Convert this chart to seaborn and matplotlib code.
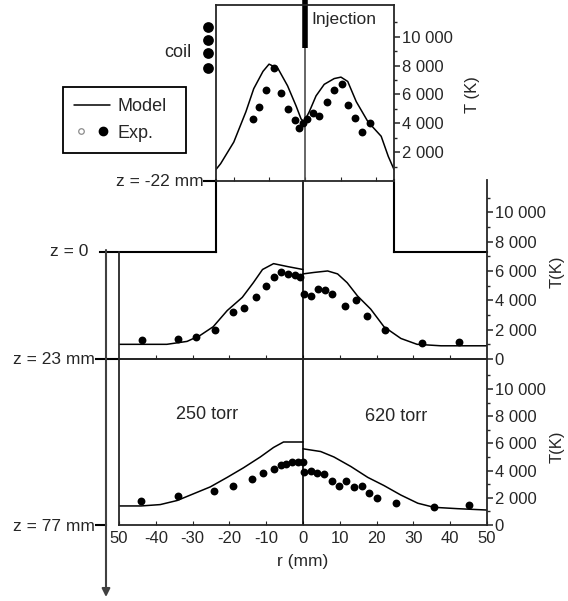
import matplotlib
matplotlib.use("Agg")
import matplotlib.pyplot as plt
import seaborn as sns
from matplotlib.lines import Line2D
from matplotlib.legend_handler import HandlerTuple

# ---- data (r in mm, T in K) ----
# top panel, z = -22 mm (inside the coil region)
top_model_r = [-25, -23.7, -20, -16.6, -14.4, -11.8, -10.1, -7.6, -4.9, -2.5, -1.1, -0.3,
               1.2, 3.1, 5.4, 8.2, 10.1, 12, 14.4, 17.7, 21.4, 23.4, 25]
top_model_T = [800, 1200, 2700, 4800, 6400, 7600, 8100, 7800, 6600, 5200, 4300, 4100,
               4800, 5900, 6700, 7100, 7200, 6900, 5500, 4100, 3100, 1700, 800]
top_exp_r = [-14.6, -12.9, -11, -8.8, -6.8, -4.8, -2.8, -1.8, -0.6, 0.6, 2.2, 4,
             6.2, 8.2, 10.4, 12, 14, 16, 18.3]
top_exp_T = [4300, 5100, 6300, 7800, 6100, 5000, 4200, 3700, 4000, 4300, 4700, 4500,
             5500, 6300, 6700, 5300, 4400, 3400, 4000]

# middle panel, z = 23 mm
mid_model_left_r = [-50, -37, -31.5, -28, -24.4, -20.6, -16.5, -13.5, -11, -8, -4.2, 0]
mid_model_left_T = [1000, 1000, 1200, 1600, 2200, 3300, 4200, 5200, 6100, 6500, 6300, 6100]
mid_model_right_r = [0, 3, 6.7, 9.4, 12, 14.8, 18.4, 22, 26.6, 31, 37.5, 50]
mid_model_right_T = [5800, 5900, 6000, 5800, 5200, 4300, 3400, 2200, 1400, 1000, 900, 900]
mid_exp_left_r = [-43.7, -33.9, -29, -23.8, -18.9, -15.9, -12.9, -10, -8, -5.9, -4, -2.3, -0.7]
mid_exp_left_T = [1300, 1350, 1500, 2000, 3200, 3500, 4200, 5000, 5600, 5900, 5800, 5700, 5600]
mid_exp_right_r = [0.2, 2.3, 4.2, 6.1, 8, 11.3, 14.3, 17.3, 22.2, 32.3, 42.4]
mid_exp_right_T = [4400, 4300, 4800, 4700, 4400, 3600, 4000, 2900, 2000, 1100, 1150]

# bottom panel, z = 77 mm
bot_model_left_r = [-50, -44, -38.8, -34.2, -29.7, -25.2, -20.6, -16.2, -11.6, -8, -5.3, 0]
bot_model_left_T = [1400, 1400, 1500, 1800, 2300, 2800, 3500, 4200, 5000, 5700, 6100, 6100]
bot_model_right_r = [0, 4.8, 8.4, 13, 17.6, 22, 26.6, 31.2, 35.6, 42, 50]
bot_model_right_T = [5600, 5400, 5000, 4300, 3500, 2900, 2200, 1600, 1300, 1200, 1100]
bot_exp_left_r = [-44, -34, -24.1, -18.9, -13.8, -10.8, -8, -6.1, -4.5, -2.9, -1.4, -0.1]
bot_exp_left_T = [1800, 2100, 2500, 2900, 3400, 3800, 4100, 4400, 4500, 4600, 4600, 4600]
bot_exp_right_r = [0.2, 2.1, 3.9, 5.7, 8, 9.8, 11.6, 13.8, 15.9, 18, 20.1, 25.2, 35.6, 45.1]
bot_exp_right_T = [3900, 4000, 3800, 3750, 3200, 2900, 3200, 2800, 2900, 2350, 2000, 1600, 1350, 1450]

# coil cross-sections drawn beside the top panel
coil_r = [-27.3, -27.3, -27.3, -27.3]
coil_T = [10700, 9800, 8900, 7800]

T_ticks = [0, 2000, 4000, 6000, 8000, 10000]
T_labels = ["0", "2 000", "4 000", "6 000", "8 000", "10 000"]
T_minor = [1000, 3000, 5000, 7000, 9000, 11000]
r_ticks = [-50, -40, -30, -20, -10, 0, 10, 20, 30, 40, 50]
r_labels = ["50", "-40", "-30", "-20", "-10", "0", "10", "20", "30", "40", "50"]

# torch geometry
tube_radius = 25
tube_wall_mid = (-23.6, 24.6)   # tube walls in middle-panel units (top panel is drawn at another scale)
wall_T = 7300                   # height of the z = 0 step in middle-panel units
T_max = 12200

sns.set_style("ticks")
plt.rcParams["font.family"] = ["Liberation Sans", "DejaVu Sans"]
plt.rcParams["axes.linewidth"] = 1.3

W, H = 568, 601
fig = plt.figure(figsize=(W / 100, H / 100), dpi=100)


def px_axes(x0, y0, x1, y1):
    """Axes placed by pixel box (top-left origin)."""
    ax = fig.add_axes([x0 / W, 1 - y1 / H, (x1 - x0) / W, (y1 - y0) / H])
    ax.set_facecolor("none")
    return ax


def draw_curve(ax, r, T):
    sns.lineplot(x=r, y=T, ax=ax, color="black", lw=1.1, sort=False, estimator=None)


def draw_points(ax, r, T):
    sns.scatterplot(x=r, y=T, ax=ax, color="black", s=32, linewidth=0, zorder=3)


def style_T_axis(ax, with_zero=True):
    ax.yaxis.tick_right()
    ticks = T_ticks if with_zero else T_ticks[1:]
    labs = T_labels if with_zero else T_labels[1:]
    ax.set_yticks(ticks)
    ax.set_yticklabels(labs)
    ax.set_yticks(T_minor, minor=True)
    ax.tick_params(axis="y", which="major", direction="out", length=4, width=1.1,
                   labelsize=12, pad=1.5, left=False, right=True)
    ax.tick_params(axis="y", which="minor", direction="out", length=2.5, width=1.0,
                   left=False, right=True)
    ax.set_ylim(0, T_max)


# ---------------- middle panel ----------------
ax_mid = px_axes(119, 180, 487, 359)
draw_curve(ax_mid, mid_model_left_r, mid_model_left_T)
draw_curve(ax_mid, mid_model_right_r, mid_model_right_T)
draw_points(ax_mid, mid_exp_left_r, mid_exp_left_T)
draw_points(ax_mid, mid_exp_right_r, mid_exp_right_T)
ax_mid.axvline(0, color="black", lw=1.2)
ax_mid.set_xlim(-50, 50)
style_T_axis(ax_mid)
ax_mid.set_xticks(r_ticks[1:-1])
ax_mid.tick_params(axis="x", direction="in", length=3, labelbottom=False)
ax_mid.spines["top"].set_visible(False)
ax_mid.spines["left"].set_bounds(0, wall_T)
# torch walls: z = 0 step and the tube continuing up to the top panel
wall = dict(color="black", lw=1.5, clip_on=False, solid_capstyle="projecting")
ax_mid.plot([-55.2, tube_wall_mid[0]], [wall_T, wall_T], **wall)
ax_mid.plot([tube_wall_mid[1], 50], [wall_T, wall_T], **wall)
ax_mid.plot([tube_wall_mid[0], tube_wall_mid[0]], [wall_T, T_max], **wall)
ax_mid.plot([tube_wall_mid[1], tube_wall_mid[1]], [wall_T, T_max], **wall)
ax_mid.plot([-56.3, -50], [0, 0], **wall)
ax_mid.text(-58.4, wall_T, "z = 0", ha="right", va="center", fontsize=12.5)
ax_mid.text(-56.6, 0, "z = 23 mm", ha="right", va="center", fontsize=12.5)
ax_mid.set_xlabel("")
ax_mid.set_ylabel("T(K)", fontsize=12, rotation=90)
ax_mid.yaxis.set_label_position("right")
ax_mid.yaxis.set_label_coords(1.17, 0.49)

# ---------------- bottom panel ----------------
ax_bot = px_axes(119, 359, 487, 525)
draw_curve(ax_bot, bot_model_left_r, bot_model_left_T)
draw_curve(ax_bot, bot_model_right_r, bot_model_right_T)
draw_points(ax_bot, bot_exp_left_r, bot_exp_left_T)
draw_points(ax_bot, bot_exp_right_r, bot_exp_right_T)
ax_bot.axvline(0, color="black", lw=1.2)
ax_bot.set_xlim(-50, 50)
style_T_axis(ax_bot)
ax_bot.set_xticks(r_ticks)
ax_bot.set_xticklabels(r_labels)
ax_bot.tick_params(axis="x", direction="in", length=3, labelsize=12, pad=4)
ax_bot.set_xlabel("r (mm)", fontsize=12.5, labelpad=6)
ax_bot.set_ylabel("T(K)", fontsize=12, rotation=90)
ax_bot.yaxis.set_label_position("right")
ax_bot.yaxis.set_label_coords(1.17, 0.47)
ax_bot.text(-26, 8100, "250 torr", ha="center", va="center", fontsize=13)
ax_bot.text(25.2, 8000, "620 torr", ha="center", va="center", fontsize=13)
ax_bot.plot([-56.3, -53.5], [0, 0], **wall)
ax_bot.text(-56.6, -100, "z = 77 mm", ha="right", va="center", fontsize=12.5)

# ---------------- top panel ----------------
ax_top = px_axes(216, 5, 394, 181)
draw_curve(ax_top, top_model_r, top_model_T)
draw_points(ax_top, top_exp_r, top_exp_T)
ax_top.axvline(0, color="0.3", lw=1.2)
# injection tube
ax_top.plot([0, 0], [9200, 12550], color="black", lw=4, clip_on=False, solid_capstyle="butt")
ax_top.set_xlim(-tube_radius, tube_radius)
style_T_axis(ax_top, with_zero=False)
ax_top.set_xticks([-20, -10, 0, 10, 20])
ax_top.tick_params(axis="x", direction="in", length=3, labelbottom=False)
ax_top.text(1.7, 11200, "Injection", ha="left", va="center", fontsize=12.5)
ax_top.set_ylabel("T (K)", fontsize=12, rotation=90)
ax_top.yaxis.set_label_position("right")
ax_top.yaxis.set_label_coords(1.40, 0.49)
# coil
sns.scatterplot(x=coil_r, y=coil_T, ax=ax_top, color="black", s=60, linewidth=0, clip_on=False)
ax_top.text(-32, 8900, "coil", ha="right", va="center", fontsize=13)
ax_top.plot([-28.3, -tube_radius], [0, 0], **wall)
ax_top.text(-28.6, 0, "z = -22 mm", ha="right", va="center", fontsize=12.5)

# legend
model_h = Line2D([], [], color="black", lw=1.1)
open_h = Line2D([], [], ls="none", marker="o", ms=4, mfc="white", mec="0.55", mew=0.9)
fill_h = Line2D([], [], ls="none", marker="o", ms=6, color="black")
leg = ax_top.legend([model_h, (open_h, fill_h)], ["Model", "Exp."],
                    handler_map={tuple: HandlerTuple(ndivide=None, pad=0.4)},
                    loc="upper left", bbox_to_anchor=(63 / W, 1 - 153 / H, 123 / W, 66 / H),
                    bbox_transform=fig.transFigure, mode="expand", fontsize=13,
                    frameon=True, fancybox=False, edgecolor="black", framealpha=1,
                    handlelength=2.0, handletextpad=0.4, borderpad=0.6,
                    labelspacing=0.55, borderaxespad=0)
leg.get_frame().set_linewidth(1.3)

# z axis arrow
ax_bot.annotate("", xy=(106 / W, 1 - 597 / H), xytext=(106 / W, 1 - 250 / H),
                xycoords="figure fraction", textcoords="figure fraction",
                arrowprops=dict(arrowstyle="-|>", color="0.25", lw=1.5,
                                mutation_scale=12, shrinkA=0, shrinkB=0))

fig.savefig("out.png", dpi=100)
